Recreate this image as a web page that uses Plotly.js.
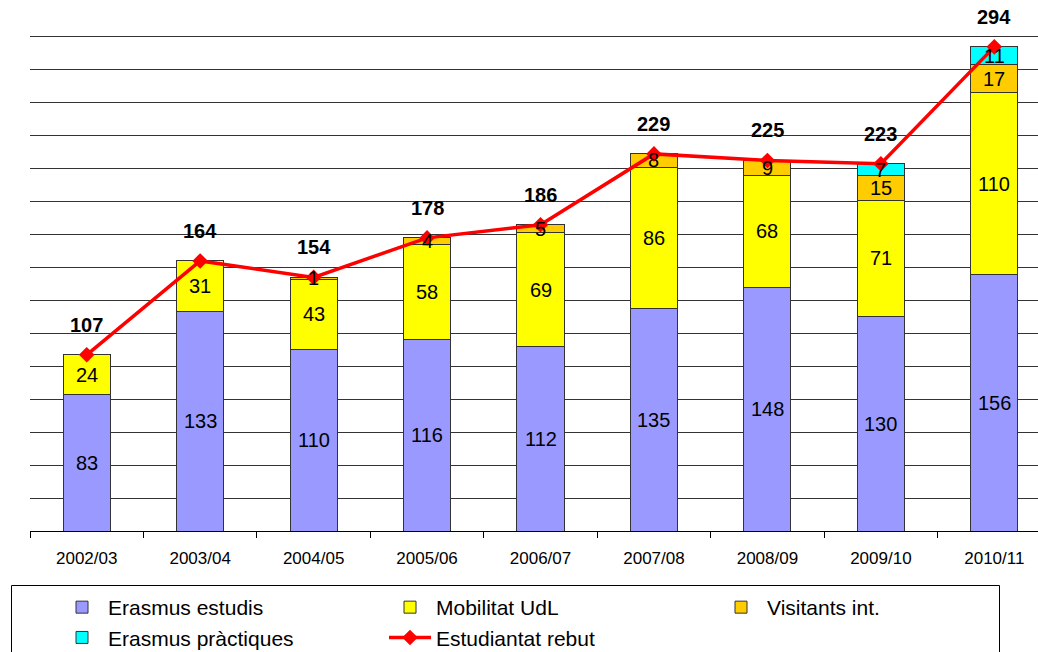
<!DOCTYPE html>
<html>
<head>
<meta charset="utf-8">
<script src="https://cdn.plot.ly/plotly-3.0.1.min.js"></script>
<style>
html,body{margin:0;padding:0;overflow:hidden;background:#fff;}
#chart{width:1038px;height:652px;}
</style>
</head>
<body>
<div id="chart"></div>
<script>
const categories = ["2002/03","2003/04","2004/05","2005/06","2006/07","2007/08","2008/09","2009/10","2010/11"];
const erasmusEstudis = [83,133,110,116,112,135,148,130,156];
const mobilitatUdL = [24,31,43,58,69,86,68,71,110];
const visitantsInt = [0,0,1,4,5,8,9,15,17];
const erasmusPractiques = [0,0,0,0,0,0,0,7,11];
const estudiantatRebut = [107,164,154,178,186,229,225,223,294];

const FONT = "Liberation Sans, Arial, Helvetica, sans-serif";

function barTrace(name, vals, color, legend) {
  return {
    type: "bar", name: name, x: categories, y: vals,
    marker: {color: color, line: {color: "#333", width: 1}},
    width: 0.415, hoverinfo: "skip", legend: legend
  };
}

const data = [
  barTrace("Erasmus estudis", erasmusEstudis, "#9999FF", "legend"),
  barTrace("Mobilitat UdL", mobilitatUdL, "#FFFF00", "legend2"),
  barTrace("Visitants int.", visitantsInt, "#FFCC00", "legend3"),
  barTrace("Erasmus pràctiques", erasmusPractiques, "#00FFFF", "legend"),
  {
    type: "scatter", mode: "lines+markers", name: "Estudiantat rebut",
    x: categories, y: estudiantatRebut, legend: "legend2",
    line: {color: "#FF0000", width: 3.5},
    marker: {symbol: "diamond", size: 12, color: "#FF0000"},
    hoverinfo: "skip"
  }
];

// segment value labels, centred on each stacked segment
const annotations = [];
const stacks = [erasmusEstudis, mobilitatUdL, visitantsInt, erasmusPractiques];
categories.forEach((c, i) => {
  let base = 0;
  stacks.forEach(s => {
    const v = s[i];
    if (v) {
      annotations.push({
        x: c, y: base + v / 2, xref: "x", yref: "y", text: String(v),
        showarrow: false, font: {family: FONT, size: 20, color: "#000"}
      });
    }
    base += v;
  });
  annotations.push({
    x: c, y: estudiantatRebut[i], xref: "x", yref: "y",
    text: "<b>" + estudiantatRebut[i] + "</b>", showarrow: false,
    yshift: 30, font: {family: FONT, size: 20, color: "#000"}
  });
});

const legFont = {family: FONT, size: 21, color: "#000"};
function leg(px) {
  return {
    orientation: "v", xref: "container", yref: "container",
    x: px / 1038, y: 1 - 587 / 652, xanchor: "left", yanchor: "top",
    borderwidth: 0, bgcolor: "rgba(0,0,0,0)", font: legFont,
    itemwidth: 42, traceorder: "normal", tracegroupgap: 0
  };
}

const plotTop = 35, plotBottom = 531, plotLeft = 30, plotRight = 1038;
const px2x = p => (p - plotLeft) / (plotRight - plotLeft);
const py2y = p => (plotBottom - p) / (plotBottom - plotTop);

const layout = {
  width: 1038, height: 652,
  margin: {l: plotLeft, r: 1038 - plotRight, t: plotTop, b: 652 - plotBottom, pad: 0, autoexpand: false},
  paper_bgcolor: "#fff", plot_bgcolor: "#fff",
  font: {family: FONT, color: "#000"},
  barmode: "stack",
  showlegend: true,
  xaxis: {
    type: "category", range: [-0.5, 8.385], automargin: false,
    tickson: "boundaries", ticks: "outside", ticklen: 6, tickcolor: "#000",
    showline: true, linecolor: "#000", linewidth: 1, tickangle: 0,
    showgrid: false, tickfont: {family: FONT, size: 17, color: "#000"},
    ticklabelstandoff: 12, fixedrange: true
  },
  yaxis: {
    range: [0, 301.2], dtick: 20, showticklabels: false, automargin: false,
    showgrid: true, gridcolor: "#333", gridwidth: 1,
    zeroline: false, showline: false, ticks: "", fixedrange: true
  },
  legend: leg(56),
  legend2: leg(384),
  legend3: leg(715),
  shapes: [{
    type: "rect", xref: "paper", yref: "paper",
    x0: px2x(11.5), x1: px2x(999.5), y0: py2y(700), y1: py2y(585.5),
    line: {color: "#000", width: 1}, fillcolor: "rgba(0,0,0,0)", layer: "below"
  }],
  annotations: annotations
};

Plotly.newPlot("chart", data, layout, {staticPlot: true, displayModeBar: false});
</script>
</body>
</html>
